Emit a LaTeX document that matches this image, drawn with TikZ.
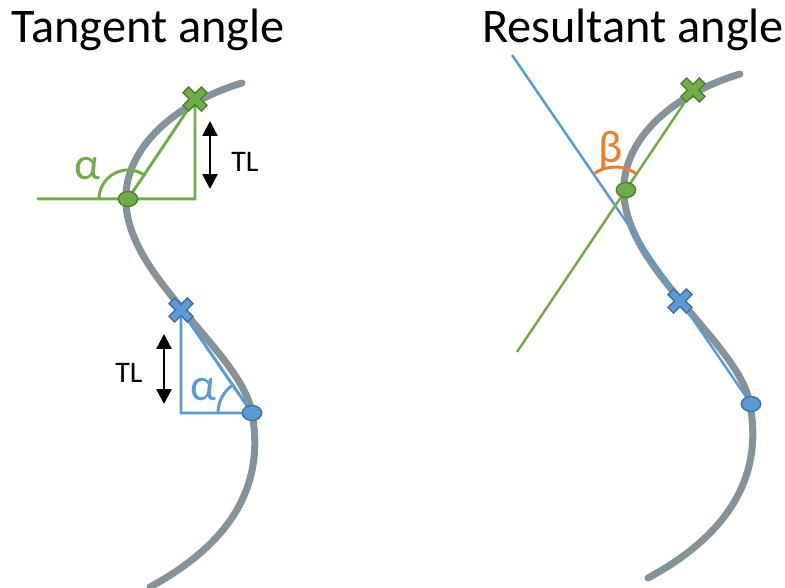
\documentclass[tikz,border=0pt]{standalone}
\usepackage{fontspec}
\setmainfont{Carlito}
\usetikzlibrary{arrows.meta,shapes.geometric,backgrounds}
\definecolor{wavegray}{RGB}{132,147,154}
\definecolor{tgreen}{RGB}{112,173,71}
\definecolor{tgreendk}{RGB}{80,126,50}
\definecolor{tblue}{RGB}{91,155,213}
\definecolor{tbluedk}{RGB}{65,113,156}
\definecolor{torange}{RGB}{237,125,49}

\begin{document}
\begin{tikzpicture}[x=0.02cm, y=0.02cm,
  title/.style={font=\fontsize{27.5}{32}\selectfont, anchor=base, inner sep=0pt},
  greek/.style={font=\fontsize{26}{30}\selectfont, inner sep=0pt},
  tltext/.style={font=\fontsize{17}{20}\selectfont, inner sep=0pt},
  dot/.style={ellipse, draw=#1dk, fill=#1, line width=0.8pt, minimum width=11pt, minimum height=8.5pt, inner sep=0pt},
  leg/.style={line width=1.7pt, line cap=round},
  tl/.style={{Triangle[width=8.5pt,length=8.5pt]}-{Triangle[width=8.5pt,length=8.5pt]}, line width=1.4pt},
  wave/.pic={\draw[wavegray, line width=4pt, line cap=round]
    (242,505) .. controls (170,483) and (122,436) .. (126,383)
    .. controls (129,343) and (160,306) .. (183,278)
    .. controls (212,242) and (246,208) .. (252,175)
    .. controls (258,140) and (265,63) .. (150,1);},
  xmark/.pic={\path[pic actions, line width=0.8pt, rotate=45]
    (-13,-4) -- (-4,-4) -- (-4,-13) -- (4,-13) -- (4,-4) -- (13,-4) -- (13,4)
    -- (4,4) -- (4,13) -- (-4,13) -- (-4,4) -- (-13,4) -- cycle;}]
\useasboundingbox (0,0) rectangle (785,588);

% titles
\node[title] (ttan) at (148,545) {Tangent angle};
\node[title] (tres) at (633,545) {Resultant angle};

% tangent angle
\coordinate (gx) at (195,489);
\coordinate (gleft) at (38,389);
\coordinate (bx) at (181,278);
\node[dot=tgreen] (gd) at (128,389) {};
\node[dot=tblue] (bd) at (252,175) {};
\pic[fill=tgreen, draw=tgreendk] at (gx) {xmark};
\pic[fill=tblue, draw=tbluedk] at (bx) {xmark};
\node[greek, text=tgreen] (agreen) at (87,419) {α};
\node[greek, text=tblue] (ablue) at (203,198) {α};
\coordinate (tla) at (210,467);
\coordinate (tlb) at (210,399);
\coordinate (tlc) at (164,254);
\coordinate (tld) at (164,184);
\node[tltext] (tlup) at (245,426) {TL};
\node[tltext] (tllow) at (129,215) {TL};
\draw[tl] (tla) -- (tlb);
\draw[tl] (tlc) -- (tld);

% resultant angle
\coordinate (gxr) at (693,498);
\coordinate (bxr) at (680,287);
\coordinate (gstart) at (517,236);
\coordinate (bstart) at (512,533);
\coordinate (meet) at (615,384);
\node[dot=tgreen] (gdr) at (626,398) {};
\node[dot=tblue] (bdr) at (751,184) {};
\pic[fill=tgreen, draw=tgreendk] at (gxr) {xmark};
\pic[fill=tblue, draw=tbluedk] at (bxr) {xmark};
\node[greek, text=torange] (beta) at (611,437) {β};

\begin{scope}[on background layer]
\pic at (0,0) {wave};
\pic at (498,9) {wave};
\draw[tgreen, leg] (gleft) -- (gx |- gd) -- (gx) -- (gd.center);
\draw[tgreen, leg] (gd.center) ++(180:29) arc[start angle=180, end angle=55.5, radius=29];
\draw[tblue, leg] (bx) -- (bx |- bd) -- (bd.center) -- (bx);
\draw[tblue, leg] (bd.center) ++(124:34) arc[start angle=124, end angle=180, radius=34];
\draw[tblue, line width=1.4pt] (bstart) -- (bdr.center);
\draw[tgreen, line width=1.4pt] (gstart) -- (gxr);
\draw[torange, line width=1.7pt] (meet) ++(56:37) arc[start angle=56, end angle=125, radius=37];
\end{scope}
\end{tikzpicture}
\end{document}
